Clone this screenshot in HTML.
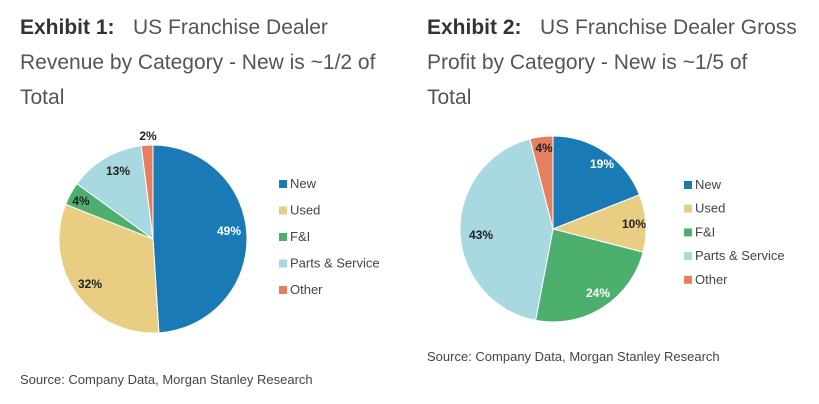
<!DOCTYPE html>
<html><head><meta charset="utf-8"><style>
body{margin:0;width:819px;height:404px;background:#fff;font-family:"Liberation Sans",sans-serif;position:relative;overflow:hidden}
.t{position:absolute;font-size:21px;color:#555;line-height:35px;white-space:nowrap}
.t b{color:#333;display:inline-block}
.src{position:absolute;font-size:13px;color:#444}
svg{position:absolute;left:0;top:0}
</style></head><body>
<div class="t" style="left:20px;top:10px"><b style="width:113px">Exhibit 1:</b>US Franchise Dealer<br>Revenue by Category - New is ~1/2 of<br>Total</div>
<div class="t" style="left:427px;top:10px"><b style="width:113px">Exhibit 2:</b>US Franchise Dealer Gross<br>Profit by Category - New is ~1/5 of<br>Total</div>
<div class="src" style="left:20px;top:372px">Source: Company Data, Morgan Stanley Research</div>
<div class="src" style="left:427px;top:349px">Source: Company Data, Morgan Stanley Research</div>
<svg id="s" width="819" height="404" font-family="Liberation Sans, sans-serif"></svg>
<script>
var C=["#1a7ab5","#e8cd83","#4daf6e","#a8d8e0","#e47f62"],N=["New","Used","F&I","Parts & Service","Other"];
var s=document.getElementById("s"),h="";
function pie(cx,cy,r,v,lab,lx,ly,dy){
 var a=0;
 v.forEach(function(p,i){
  var a0=a/100*2*Math.PI,a1=(a+p)/100*2*Math.PI;a+=p;
  var x0=cx+r*Math.sin(a0),y0=cy-r*Math.cos(a0),x1=cx+r*Math.sin(a1),y1=cy-r*Math.cos(a1);
  h+='<path d="M'+cx+','+cy+'L'+x0+','+y0+'A'+r+','+r+' 0 '+(p>50?1:0)+' 1 '+x1+','+y1+'Z" fill="'+C[i]+'" stroke="#fff" stroke-width="1"/>';
 });
 lab.forEach(function(l){h+='<text x="'+l[0]+'" y="'+l[1]+'" font-size="12" font-weight="bold" text-anchor="middle" fill="'+l[3]+'">'+l[2]+'</text>';});
 N.forEach(function(n,i){h+='<rect x="'+lx+'" y="'+(ly+i*dy-8)+'" width="8" height="8" fill="'+C[i]+'"/><text x="'+(lx+11)+'" y="'+(ly+i*dy)+'" font-size="13" fill="#444">'+n+'</text>';});
}
pie(153,239,94,[49,32,4,13,2],[[229,235,"49%","#fff"],[90,288,"32%","#222"],[81,205,"4%","#222"],[118,175,"13%","#222"],[148,140,"2%","#222"]],279,188,26.5);
pie(553,229,93,[19,10,24,43,4],[[602,168,"19%","#fff"],[634,228,"10%","#222"],[598,297,"24%","#fff"],[481,239,"43%","#222"],[544,152,"4%","#222"]],684,189,23.7);
s.innerHTML=h;
</script>
</body></html>
